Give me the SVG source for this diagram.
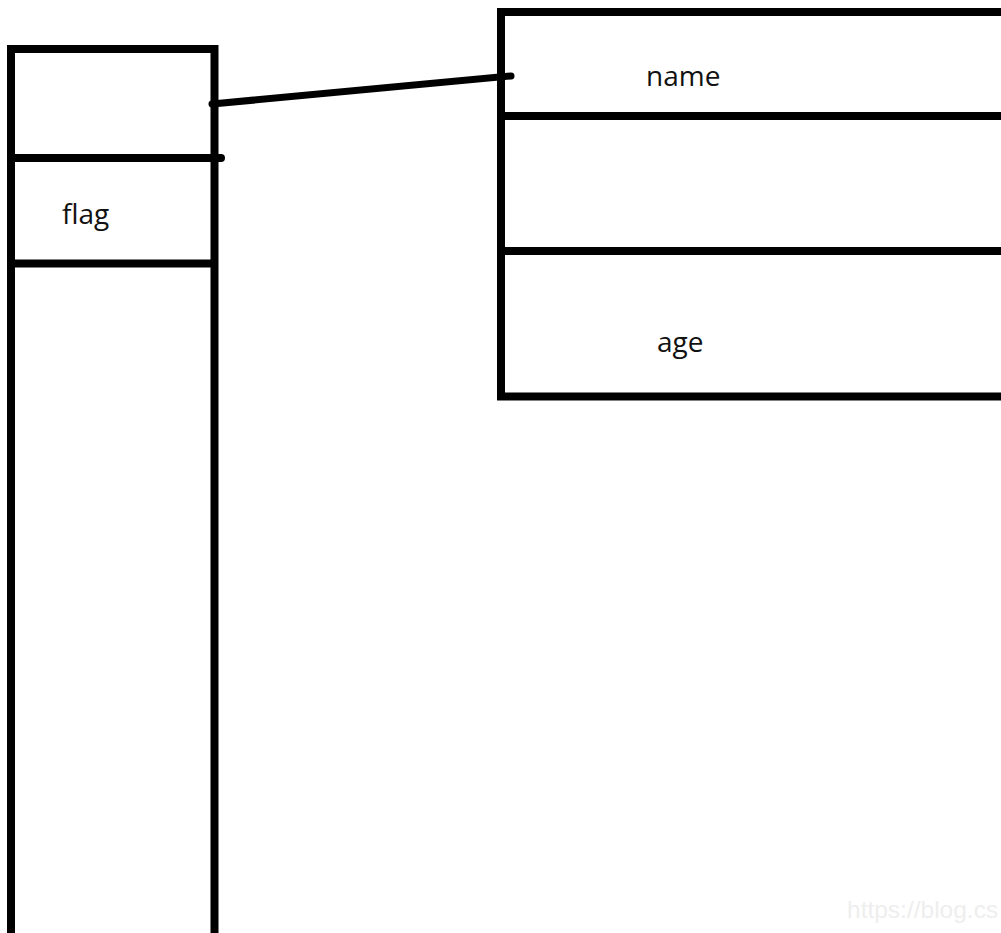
<svg xmlns="http://www.w3.org/2000/svg" width="1001" height="933" viewBox="0 0 1001 933">
  <style>
    .box { fill: none; stroke: #000; stroke-width: 8; }
    .rule { stroke: #000; stroke-width: 8; }
    .label { font-family: "Open Sans", "Noto Sans", sans-serif; font-size: 28px; fill: #111; }
    .link { stroke: #000; stroke-width: 7; stroke-linecap: round; fill: none; }
    .mark { font-family: "Liberation Sans", Arial, sans-serif; font-size: 24.5px; fill: #eeeeee; }
  </style>
  <rect width="1001" height="933" fill="#fff"/>

  <!-- stack column on the left -->
  <g id="stack">
    <path class="box" d="M11,940 V49 H214.5 V940"/>
    <line class="rule" x1="11" y1="158" x2="222" y2="158"/>
    <circle cx="221" cy="158" r="4"/>
    <line class="rule" x1="11" y1="263.5" x2="214.5" y2="263.5"/>
    <text class="label" x="62" y="224">flag</text>
  </g>

  <!-- object record on the right -->
  <g id="object">
    <path class="box" d="M1010,12 H501 V396.5 H1010"/>
    <line class="rule" x1="501" y1="116" x2="1010" y2="116"/>
    <line class="rule" x1="501" y1="251" x2="1010" y2="251"/>
    <text class="label" x="646" y="86">name</text>
    <text class="label" x="657" y="352">age</text>
  </g>

  <!-- reference from the stack slot to the record -->
  <g id="connectors">
    <line class="link" x1="212" y1="104" x2="511" y2="76"/>
  </g>

  <text class="mark" x="847" y="918">https://blog.cs</text>
</svg>
